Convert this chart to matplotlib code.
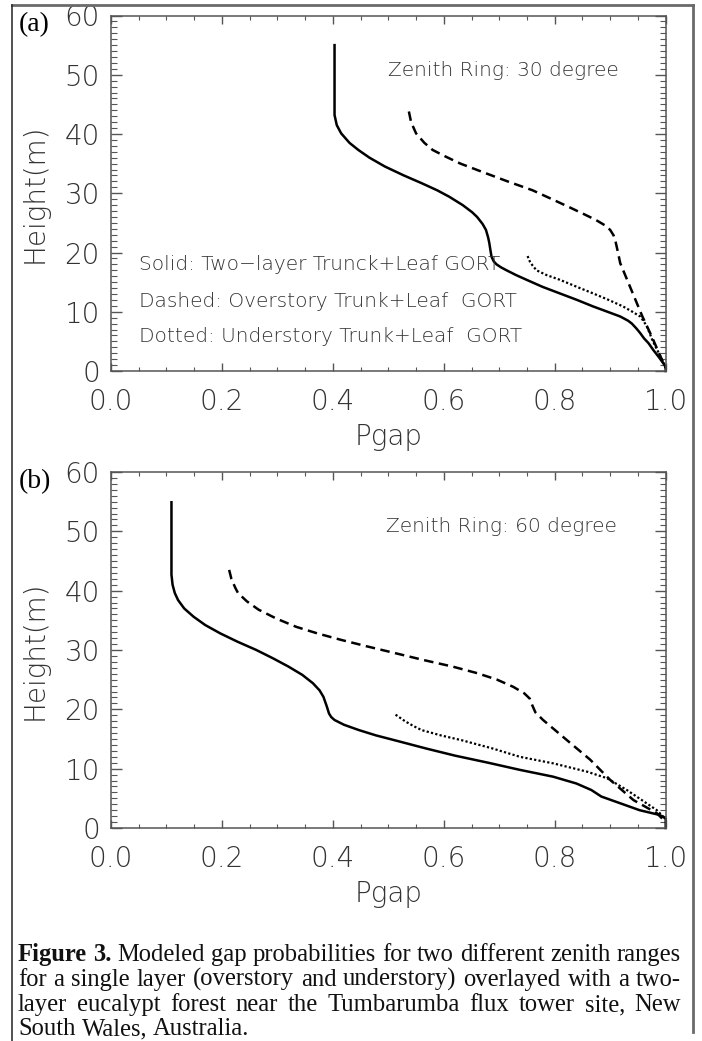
import matplotlib
matplotlib.use("Agg")
import matplotlib.pyplot as plt
from matplotlib.lines import Line2D
from matplotlib.ticker import MultipleLocator

# ---------------- data (Pgap vs height) ----------------
# Panel (a): zenith ring 30 degree
a_solid_h = [55.0, 43.2, 41.5, 40.1, 38.5, 37.3, 36.0, 34.5, 33.0, 31.7, 30.5, 29.4, 28.0, 26.8, 26.0,
             24.8, 23.8, 22.5, 21.6, 20.4, 19.3, 18.5, 18.0, 17.5, 17.0, 16.2, 15.4, 14.2, 13.1, 12.0,
             10.9, 10.0, 9.2, 8.5, 8.0, 7.2, 6.4, 5.5, 4.7, 3.5, 2.3, 1.0, 0.5, 0.0]
a_solid_p = [0.403, 0.403, 0.407, 0.415, 0.430, 0.446, 0.466, 0.494, 0.528, 0.560, 0.588, 0.610, 0.634,
             0.651, 0.660, 0.670, 0.676, 0.680, 0.682, 0.684, 0.686, 0.690, 0.695, 0.703, 0.713, 0.730,
             0.749, 0.778, 0.809, 0.840, 0.869, 0.895, 0.918, 0.932, 0.939, 0.947, 0.954, 0.961, 0.969,
             0.978, 0.988, 0.998, 1.0, 1.0]
a_dash_h = [43.8, 42.0, 40.1, 38.5, 37.3, 36.2, 35.0, 33.4, 32.0, 30.5, 29.0, 27.7, 26.5, 25.5, 24.5,
            23.8, 22.9, 22.1, 20.0, 18.2, 13.7, 9.2, 5.8, 3.0, 0.5]
a_dash_p = [0.537, 0.541, 0.550, 0.565, 0.580, 0.603, 0.630, 0.675, 0.715, 0.760, 0.795, 0.825, 0.852,
            0.874, 0.892, 0.900, 0.906, 0.909, 0.914, 0.918, 0.938, 0.958, 0.975, 0.988, 1.0]
a_dot_h = [19.4, 18.5, 17.8, 17.0, 16.2, 15.4, 14.2, 13.1, 12.0, 10.9, 10.0, 9.2, 8.3, 7.5, 6.4, 5.2,
           3.5, 2.0, 0.5]
a_dot_p = [0.751, 0.755, 0.760, 0.767, 0.785, 0.809, 0.840, 0.869, 0.897, 0.923, 0.940, 0.954, 0.961,
           0.966, 0.971, 0.976, 0.985, 0.993, 1.0]

# Panel (b): zenith ring 60 degree
b_solid_h = [54.9, 42.7, 41.0, 39.6, 38.4, 37.0, 35.6, 34.2, 32.8, 31.4, 30.0, 28.6, 27.2, 25.8, 24.4,
             23.2, 22.1, 20.5, 19.3, 18.7, 18.2, 17.4, 16.5, 15.6, 14.8, 13.4, 12.2, 11.0, 9.8, 8.65,
             7.5, 6.4, 5.3, 4.2, 3.0, 2.2, 1.6, 0.0]
b_solid_p = [0.109, 0.109, 0.111, 0.115, 0.121, 0.132, 0.149, 0.170, 0.197, 0.228, 0.262, 0.292, 0.320,
             0.345, 0.364, 0.376, 0.383, 0.389, 0.393, 0.397, 0.403, 0.420, 0.447, 0.478, 0.511, 0.568,
             0.620, 0.680, 0.737, 0.797, 0.839, 0.866, 0.884, 0.917, 0.953, 0.989, 1.0, 1.0]
b_dash_h = [43.5, 42.0, 40.5, 39.6, 38.2, 36.8, 35.3, 33.9, 32.8, 31.7, 30.6, 29.5, 28.3, 27.2, 26.1,
            25.0, 23.8, 22.7, 21.8, 21.0, 19.5, 18.2, 14.8, 11.5, 8.1, 4.7, 2.5, 1.0]
b_dash_p = [0.213, 0.217, 0.224, 0.229, 0.245, 0.266, 0.298, 0.334, 0.372, 0.415, 0.462, 0.511, 0.564,
            0.616, 0.660, 0.696, 0.725, 0.745, 0.755, 0.758, 0.765, 0.779, 0.822, 0.864, 0.900, 0.942,
            0.984, 1.0]
b_dot_h = [19.1, 18.0, 17.2, 16.5, 15.6, 14.8, 13.4, 12.0, 10.9, 9.5, 8.4, 6.4, 4.7, 3.0, 1.5]
b_dot_p = [0.513, 0.530, 0.545, 0.560, 0.595, 0.632, 0.688, 0.737, 0.797, 0.858, 0.894, 0.930, 0.957,
           0.984, 1.0]

x_ticks = [0.0, 0.2, 0.4, 0.6, 0.8, 1.0]
x_ticklabels = ["0.0", "0.2", "0.4", "0.6", "0.8", "1.0"]
y_ticks = [0, 10, 20, 30, 40, 50, 60]
y_ticklabels = ["0", "10", "20", "30", "40", "50", "60"]

panel_labels = ["(a)", "(b)"]
zenith_texts = ["Zenith Ring: 30 degree", "Zenith Ring: 60 degree"]
legend_texts = ["Solid: Two\u2212layer Trunck+Leaf GORT",
                "Dashed: Overstory Trunk+Leaf  GORT",
                "Dotted: Understory Trunk+Leaf  GORT"]
xlabel = "Pgap"
ylabel = "Height(m)"
caption_lines = [
    [("Figure", "bold"), ("3.", "bold"), ("Modeled", "normal"), ("gap", "normal"), ("probabilities", "normal"),
     ("for", "normal"), ("two", "normal"), ("different", "normal"), ("zenith", "normal"), ("ranges", "normal")],
    [(w, "normal") for w in "for a single layer (overstory and understory) overlayed with a two-".split()],
    [(w, "normal") for w in "layer eucalypt forest near the Tumbarumba flux tower site, New".split()],
    [(w, "normal") for w in "South Wales, Australia.".split()],
]

# ---------------- figure ----------------
W, H = 702, 1041
fig = plt.figure(figsize=(W / 100, H / 100), dpi=100)
fig.patch.set_facecolor("white")

SANS = ["DejaVu Sans"]
SANS_W = "light"
SERIF = ["Liberation Serif", "DejaVu Serif"]
TXT = "#333333"
AX_FS = 20
NOTE_FS = 14.5


def fx(px):
    return px / W


def fy(py):
    return 1 - py / H


def make_axes(top_px, bottom_px):
    left, right = 111, 665.7
    ax = fig.add_axes([fx(left), fy(bottom_px), (right - left) / W, (bottom_px - top_px) / H])
    ax.set_xlim(0, 1)
    ax.set_ylim(0, 60)
    for s in ax.spines.values():
        s.set_color("#555555")
        s.set_linewidth(1.1)
    ax.set_xticks(x_ticks)
    ax.set_xticklabels(x_ticklabels)
    ax.set_yticks(y_ticks)
    ax.set_yticklabels(y_ticklabels)
    ax.xaxis.set_minor_locator(MultipleLocator(0.05))
    ax.yaxis.set_minor_locator(MultipleLocator(1))
    ax.tick_params(axis="both", which="both", direction="in", top=True, right=True,
                   colors="#555555", labelcolor=TXT)
    ax.tick_params(axis="x", which="major", length=6, width=1.0, pad=12)
    ax.tick_params(axis="x", which="minor", length=3, width=0.8)
    ax.tick_params(axis="y", which="major", length=8, width=1.0, pad=8)
    ax.tick_params(axis="y", which="minor", length=4.3, width=0.8)
    for lab in ax.get_xticklabels() + ax.get_yticklabels():
        lab.set_fontfamily(SANS)
        lab.set_fontweight(SANS_W)
        lab.set_fontsize(AX_FS)
    ax.set_xlabel(xlabel, fontsize=AX_FS, family=SANS, fontweight=SANS_W, color=TXT)
    ax.xaxis.set_label_coords(0.5, -66 / (bottom_px - top_px))
    ax.xaxis.label.set_va("center")
    ax.set_ylabel(ylabel, fontsize=AX_FS, family=SANS, fontweight=SANS_W, color=TXT)
    ax.yaxis.set_label_coords((35 - left) / (right - left), 0.5)
    ax.yaxis.label.set_va("center")
    return ax


axes = [make_axes(15.5, 371), make_axes(472, 828)]
series = [
    (a_solid_p, a_solid_h, a_dash_p, a_dash_h, a_dot_p, a_dot_h),
    (b_solid_p, b_solid_h, b_dash_p, b_dash_h, b_dot_p, b_dot_h),
]
for i, ax in enumerate(axes):
    sp, sh, dp, dh, op, oh = series[i]
    ax.plot(sp, sh, color="black", lw=1.8, solid_joinstyle="round", clip_on=False)
    ax.plot(dp, dh, color="black", lw=1.8, dashes=(3.8, 2.2), clip_on=False)
    ax.plot(op, oh, color="black", lw=1.6, dashes=(1.0, 1.0), clip_on=False)
    ax.text(0.500 if i == 0 else 0.495, 50.8, zenith_texts[i], fontsize=NOTE_FS, family=SANS,
            fontweight=SANS_W, color=TXT, va="center", ha="left")

for txt, yv in zip(legend_texts, [17.9, 11.8, 5.9]):
    axes[0].text(0.0506, yv, txt, fontsize=NOTE_FS, family=SANS, fontweight=SANS_W, color=TXT,
                 va="center", ha="left")

fig.text(fx(19), fy(25), panel_labels[0], fontsize=20, family=SERIF, va="center", ha="left", color="black")
fig.text(fx(19), fy(482), panel_labels[1], fontsize=20, family=SERIF, va="center", ha="left", color="black")

# ---------------- frame lines ----------------
fig.add_artist(Line2D([fx(11.7), fx(692.7)], [fy(4.5), fy(4.5)], color="#6a6a6a", lw=2.0))
fig.add_artist(Line2D([fx(692.7), fx(692.7)], [fy(4.5), fy(1032)], color="#6a6a6a", lw=2.0))
fig.add_artist(Line2D([fx(11.7), fx(11.7)], [fy(4.5), fy(1041)], color="#222222", lw=1.1))

# ---------------- caption (justified) ----------------
fig.canvas.draw()
renderer = fig.canvas.get_renderer()
left_px, right_px = 18.0, 681.0
baselines = [961, 986, 1011, 1035]


def word_widths(words, size):
    out = []
    for w, weight in words:
        t = fig.text(0, 0, w, fontsize=size, family=SERIF, fontweight=weight)
        out.append(t.get_window_extent(renderer).width)
        t.remove()
    return out


def space_width(size):
    t1 = fig.text(0, 0, "a a", fontsize=size, family=SERIF)
    t2 = fig.text(0, 0, "aa", fontsize=size, family=SERIF)
    g = t1.get_window_extent(renderer).width - t2.get_window_extent(renderer).width
    t1.remove()
    t2.remove()
    return g


# choose the caption size so the first line fills the column with normal spacing
ref = 10.0
w1 = sum(word_widths(caption_lines[0], ref)) + space_width(ref) * (len(caption_lines[0]) - 1)
CAP_FS = ref * (right_px - left_px) / w1
gap_nat = space_width(CAP_FS)

for li, (words, base) in enumerate(zip(caption_lines, baselines)):
    widths = word_widths(words, CAP_FS)
    if li < len(caption_lines) - 1:
        gap = (right_px - left_px - sum(widths)) / (len(words) - 1)
    else:
        gap = gap_nat
    x = left_px
    for (w, weight), wd in zip(words, widths):
        fig.text(fx(x), fy(base), w, fontsize=CAP_FS, family=SERIF, fontweight=weight,
                 va="baseline", ha="left", color="#111111")
        x += wd + gap

fig.savefig("out.png", dpi=100, facecolor="white")
